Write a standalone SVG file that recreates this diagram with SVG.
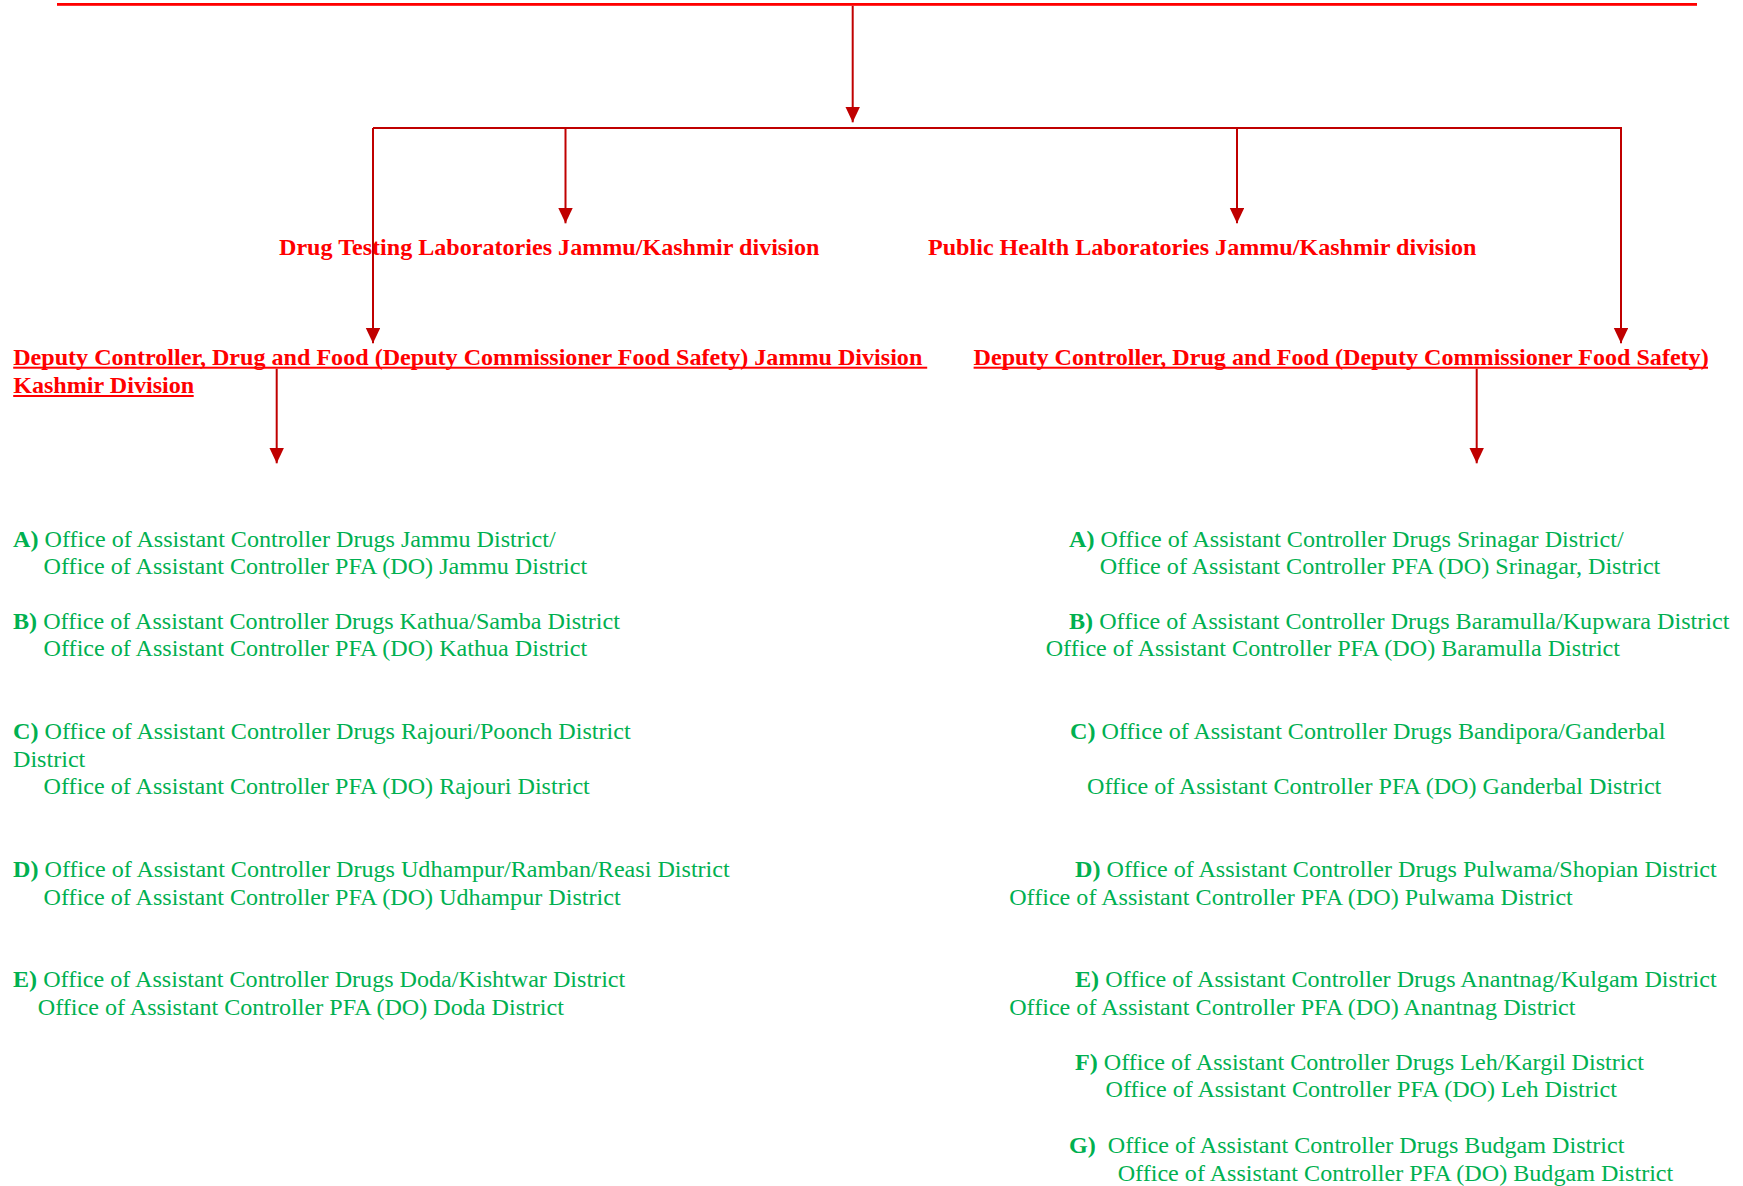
<svg xmlns="http://www.w3.org/2000/svg" width="1743" height="1186" viewBox="0 0 1743 1186">
  <defs>
    <style>
      .hd { font-family: "Liberation Serif", "Times New Roman", serif; font-weight: bold; font-size: 24.1px; fill: #FF0000; }
      .of { font-family: "Liberation Serif", "Times New Roman", serif; font-size: 24.12px; fill: #00B050; }
      .of .k { font-weight: bold; }
      .ul { fill: #FF0000; }
      .cn { fill: none; stroke: #C00000; stroke-width: 2; }
      .ar { marker-end: url(#arrow); }
    </style>
    <marker id="arrow" markerUnits="userSpaceOnUse" markerWidth="16" markerHeight="16" refX="15.5" refY="7.3" orient="auto">
      <path d="M0,0 L15.5,7.3 L0,14.6 z" fill="#C00000"/>
    </marker>
  </defs>
  <rect width="1743" height="1186" fill="#FFFFFF"/>

  <!-- cut-off title underline -->
  <g id="title">
    <rect class="ul" x="57" y="3" width="1640" height="2.8"/>
  </g>

  <g id="drug-testing-labs">
    <text class="hd" x="279" y="254.5">Drug Testing Laboratories Jammu/Kashmir division</text>
  </g>
  <g id="public-health-labs">
    <text class="hd" x="928" y="254.5">Public Health Laboratories Jammu/Kashmir division</text>
  </g>

  <g id="deputy-jammu">
    <text class="hd" x="13.2" y="365">Deputy Controller, Drug and Food (Deputy Commissioner Food Safety) Jammu Division</text>
    <rect class="ul" x="13.2" y="366.7" width="914" height="2"/>
    <text class="hd" x="13.2" y="393.3">Kashmir Division</text>
    <rect class="ul" x="13.2" y="395" width="180.5" height="2"/>
  </g>
  <g id="deputy-kashmir">
    <text class="hd" x="973.6" y="365">Deputy Controller, Drug and Food (Deputy Commissioner Food Safety)</text>
    <rect class="ul" x="973.6" y="366.7" width="734.4" height="2"/>
  </g>

  <!-- Jammu division offices -->
  <g id="jammu-a">
    <text class="of" x="13" y="546.5"><tspan class="k">A)</tspan> Office of Assistant Controller Drugs Jammu District/</text>
    <text class="of" x="43.6" y="573.5">Office of Assistant Controller PFA (DO) Jammu District</text>
  </g>
  <g id="jammu-b">
    <text class="of" x="13" y="629"><tspan class="k">B)</tspan> Office of Assistant Controller Drugs Kathua/Samba District</text>
    <text class="of" x="43.6" y="656">Office of Assistant Controller PFA (DO) Kathua District</text>
  </g>
  <g id="jammu-c">
    <text class="of" x="13" y="739"><tspan class="k">C)</tspan> Office of Assistant Controller Drugs Rajouri/Poonch District</text>
    <text class="of" x="13" y="766.5">District</text>
    <text class="of" x="43.6" y="794">Office of Assistant Controller PFA (DO) Rajouri District</text>
  </g>
  <g id="jammu-d">
    <text class="of" x="13" y="877.3"><tspan class="k">D)</tspan> Office of Assistant Controller Drugs Udhampur/Ramban/Reasi District</text>
    <text class="of" x="43.6" y="904.6">Office of Assistant Controller PFA (DO) Udhampur District</text>
  </g>
  <g id="jammu-e">
    <text class="of" x="13" y="987.3"><tspan class="k">E)</tspan> Office of Assistant Controller Drugs Doda/Kishtwar District</text>
    <text class="of" x="37.8" y="1014.6">Office of Assistant Controller PFA (DO) Doda District</text>
  </g>

  <!-- Kashmir division offices -->
  <g id="kashmir-a">
    <text class="of" x="1069" y="546.5"><tspan class="k">A)</tspan> Office of Assistant Controller Drugs Srinagar District/</text>
    <text class="of" x="1099.7" y="573.5">Office of Assistant Controller PFA (DO) Srinagar, District</text>
  </g>
  <g id="kashmir-b">
    <text class="of" x="1069" y="629"><tspan class="k">B)</tspan> Office of Assistant Controller Drugs Baramulla/Kupwara District</text>
    <text class="of" x="1045.7" y="656">Office of Assistant Controller PFA (DO) Baramulla District</text>
  </g>
  <g id="kashmir-c">
    <text class="of" x="1070" y="739"><tspan class="k">C)</tspan> Office of Assistant Controller Drugs Bandipora/Ganderbal</text>
    <text class="of" x="1087" y="794">Office of Assistant Controller PFA (DO) Ganderbal District</text>
  </g>
  <g id="kashmir-d">
    <text class="of" x="1075" y="876.7"><tspan class="k">D)</tspan> Office of Assistant Controller Drugs Pulwama/Shopian District</text>
    <text class="of" x="1009.2" y="904.6">Office of Assistant Controller PFA (DO) Pulwama District</text>
  </g>
  <g id="kashmir-e">
    <text class="of" x="1075" y="986.7"><tspan class="k">E)</tspan> Office of Assistant Controller Drugs Anantnag/Kulgam District</text>
    <text class="of" x="1009.2" y="1014.6">Office of Assistant Controller PFA (DO) Anantnag District</text>
  </g>
  <g id="kashmir-f">
    <text class="of" x="1075" y="1070"><tspan class="k">F)</tspan> Office of Assistant Controller Drugs Leh/Kargil District</text>
    <text class="of" x="1105.5" y="1097.3">Office of Assistant Controller PFA (DO) Leh District</text>
  </g>
  <g id="kashmir-g">
    <text class="of" x="1069" y="1153.3" xml:space="preserve"><tspan class="k">G)</tspan>  Office of Assistant Controller Drugs Budgam District</text>
    <text class="of" x="1117.7" y="1180.6">Office of Assistant Controller PFA (DO) Budgam District</text>
  </g>

  <!-- connectors -->
  <g id="connectors">
    <path class="cn ar" d="M852.7,5.8 V122.3"/>
    <path class="cn" d="M373,128 H1621"/>
    <path class="cn ar" d="M565.5,128 V223.3"/>
    <path class="cn ar" d="M1237,128 V223.3"/>
    <path class="cn ar" d="M373,128 V343.3"/>
    <path class="cn ar" d="M1621,127 V343.3"/>
    <path class="cn ar" d="M276.7,368.7 V463.3"/>
    <path class="cn ar" d="M1476.7,368.7 V463.3"/>
  </g>
</svg>
